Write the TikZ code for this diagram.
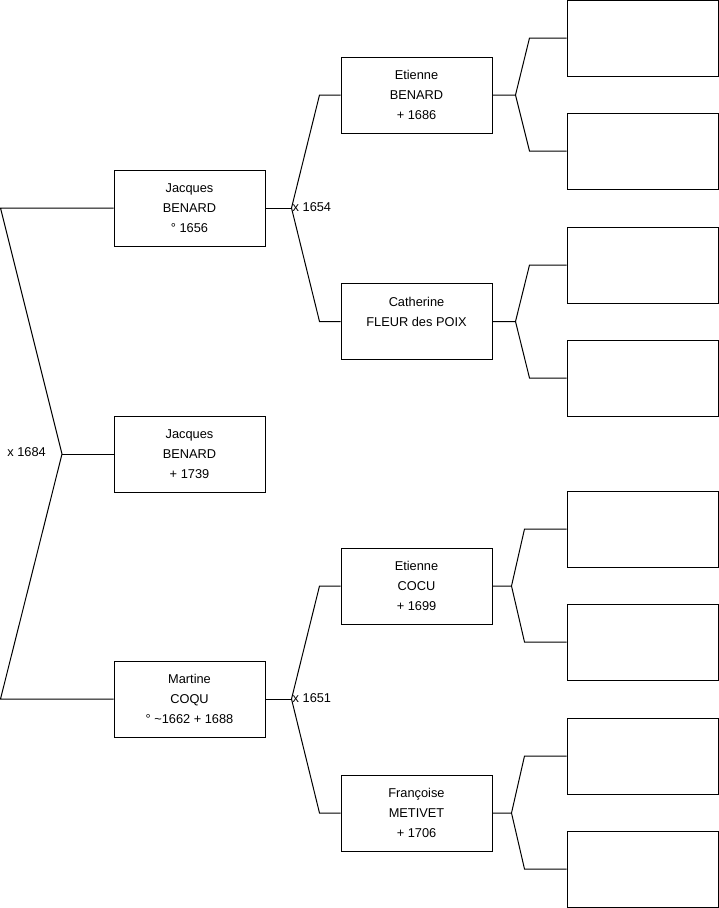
\documentclass[tikz,border=0pt]{standalone}
\usepackage{fontspec}
\setmainfont{Liberation Sans}
\usetikzlibrary{positioning}

\begin{document}
\begin{tikzpicture}[x=1pt, y=-1pt,
    person/.style={draw, line width=1pt, minimum width=151pt, minimum height=76pt,
      align=center, inner sep=0pt, font=\fontsize{12.8}{20}\selectfont},
    blank/.style={draw, line width=1pt, minimum width=151pt, minimum height=76pt},
    link/.style={line width=1pt, line join=miter},
    year/.style={font=\fontsize{12.8}{14}\selectfont, inner sep=1pt}]
  \useasboundingbox (0,0) rectangle (719,908);
  % Generation 1
  \node[person] (jacques) at (189.5,454) {Jacques\\BENARD\\ + 1739};
  % Parents
  \node[person] (jfather) at (189.5,208) {Jacques\\BENARD\\° 1656};
  \node[person] (martine) at (189.5,699) {Martine\\COQU\\° \textasciitilde1662 + 1688};
  % Grand-parents
  \node[person] (etienneB) at (416.5,95) {Etienne\\BENARD\\ + 1686};
  \node[person] (catherine) at (416.5,321.5) {Catherine\\FLEUR des POIX\\\mbox{}};
  \node[person] (etienneC) at (416.5,586) {Etienne\\COCU\\ + 1699};
  \node[person] (francoise) at (416.5,813) {Françoise\\METIVET\\ + 1706};
  % Empty boxes
  \foreach \n/\y in {b1/38, b2/151, b3/265, b4/378, b5/529, b6/642, b7/756, b8/869}
    \node[blank] (\n) at (642.5,\y) {};
  % Marriage 1684
  \coordinate (f1684) at (62,454);
  \coordinate[left=113pt of jfather.west] (ltop);
  \coordinate[left=113pt of martine.west] (lbot);
  \draw[link] (jfather.west) -- (ltop) -- (f1684) -- (lbot) -- (martine.west);
  \draw[link] (f1684) -- (jacques.west);
  \node[year, anchor=east] at ([xshift=-15pt,yshift=2pt]f1684) {x 1684};
  % Marriages 1654 and 1651
  \coordinate[right=26pt of jfather.east] (f1654);
  \coordinate[right=26pt of martine.east] (f1651);
  \draw[link] (jfather.east) -- (f1654);
  \draw[link] (martine.east) -- (f1651);
  \foreach \f/\a/\b in {f1654/etienneB/catherine, f1651/etienneC/francoise} {
    \draw[link] (\f) -- ([xshift=-21pt]\a.west) -- (\a.west);
    \draw[link] (\f) -- ([xshift=-21pt]\b.west) -- (\b.west);
  }
  \node[year, anchor=west] at ([yshift=1pt]f1654) {x 1654};
  \node[year, anchor=west] at ([yshift=1pt]f1651) {x 1651};
  % Great-grand-parents
  \foreach \p/\a/\b/\fx/\bx in {etienneB/b1/b2/23/37, catherine/b3/b4/23/37,
      etienneC/b5/b6/19/42, francoise/b7/b8/19/42} {
    \draw[link] (\p.east) -- ++(\fx,0) coordinate (k)
      -- ([xshift=-\bx pt]\a.west) -- (\a.west);
    \draw[link] (k) -- ([xshift=-\bx pt]\b.west) -- (\b.west);
  }
\end{tikzpicture}
\end{document}
